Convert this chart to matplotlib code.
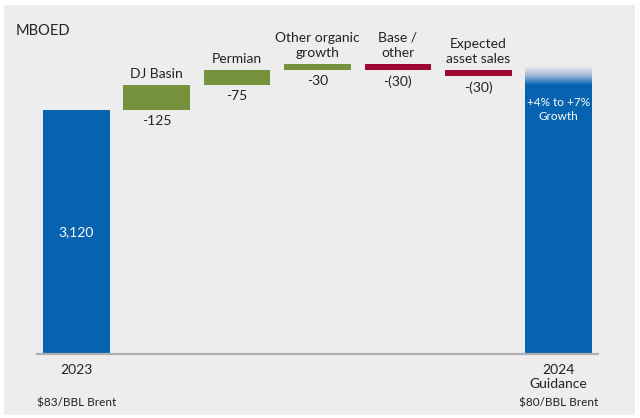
import matplotlib.pyplot as plt
import numpy as np
from matplotlib.colors import LinearSegmentedColormap
from matplotlib.patches import Rectangle

# datos
inicio = 3120
pasos_nombres = ['DJ Basin', 'Permian', 'Other organic\ngrowth', 'Base /\nother', 'Expected\nasset sales']
pasos_valores = [125, 75, 30, -30, -30]
pasos_textos = ['-125', '-75', '-30', '-(30)', '-(30)']
crec_bajo = 0.04
crec_alto = 0.07
etiquetas_x = ['2023', '2024\nGuidance']
precios = ['$83/BBL Brent', '$80/BBL Brent']

azul = '#0563B0'
verde = '#76923C'
rojo = '#A00834'
gris = '#EDEDED'

plt.rcParams['font.family'] = ['Lato', 'DejaVu Sans']

W, H = 640, 418
fig = plt.figure(figsize=(W / 100, H / 100), dpi=100)
fig.patch.set_facecolor('white')
# panel gris
fig.patches.append(Rectangle((4 / W, (H - 415) / H), (635 - 4) / W, (415 - 5) / H,
                             transform=fig.transFigure, facecolor=gris, edgecolor='none', zorder=-10))

# ejes en pixeles: izquierda 37, derecha 598, base 354, arriba 5
ax = fig.add_axes([37 / W, (H - 354) / H, (598 - 37) / W, (354 - 5) / H])
ax.set_facecolor('none')
y0 = 1900
ax.set_ylim(y0, y0 + 349 * 5)
ax.set_xlim(-0.49, 6.49)
ancho = 0.83

# barra 2023
ax.bar(0, inicio - y0, bottom=y0, width=ancho, color=azul, zorder=2)
ax.text(0, (inicio + y0) / 2, f'{inicio:,}', color='white', ha='center', va='center', fontsize=10)

# pasos
acum = inicio
for i, (nom, val, txt) in enumerate(zip(pasos_nombres, pasos_valores, pasos_textos), 1):
    c = verde if val > 0 else rojo
    fondo = acum if val > 0 else acum + val
    ax.bar(i, abs(val), bottom=fondo, width=ancho, color=c, zorder=2)
    ax.annotate(nom, xy=(i, fondo + abs(val)), xytext=(0, 5), textcoords='offset pixels',
                ha='center', va='bottom', fontsize=10, color='#222222', linespacing=1.3)
    ax.annotate(txt, xy=(i, fondo), xytext=(0, -5), textcoords='offset pixels',
                ha='center', va='top', fontsize=10, color='#222222')
    acum += val

# barra 2024 con degradado
bajo = inicio * (1 + crec_bajo)
alto = inicio * (1 + crec_alto)
ax.bar(6, bajo - y0, bottom=y0, width=ancho, color=azul, zorder=2)
cmap = LinearSegmentedColormap.from_list('deg', [azul, '#9fb9d8', gris])
grad = np.linspace(0, 1, 100).reshape(-1, 1)
ax.imshow(grad, cmap=cmap, extent=(6 - ancho / 2, 6 + ancho / 2, bajo, alto),
          origin='lower', aspect='auto', zorder=2)
ax.annotate('+4% to +7%\nGrowth', xy=(6, bajo), xytext=(0, -12), textcoords='offset pixels',
            ha='center', va='top', fontsize=8.5, color='white', linespacing=1.35)

# ejes
for s in ['top', 'right', 'left']:
    ax.spines[s].set_visible(False)
ax.spines['bottom'].set_color('#B0B0B0')
ax.spines['bottom'].set_linewidth(1.6)
ax.set_xticks([])
ax.set_yticks([])

for x, et, pr in zip([0, 6], etiquetas_x, precios):
    ax.annotate(et, xy=(x, 0), xycoords=('data', 'axes fraction'), xytext=(0, -10),
                textcoords='offset pixels', ha='center', va='top', fontsize=10,
                color='#222222', linespacing=1.2)
    ax.annotate(pr, xy=(x, 0), xycoords=('data', 'axes fraction'), xytext=(0, -49),
                textcoords='offset pixels', ha='center', va='center', fontsize=8.5,
                color='#222222')

fig.text(16 / W, (H - 31) / H, 'MBOED', ha='left', va='center', fontsize=10.5, color='#222222')

fig.savefig('out.png', dpi=100)
